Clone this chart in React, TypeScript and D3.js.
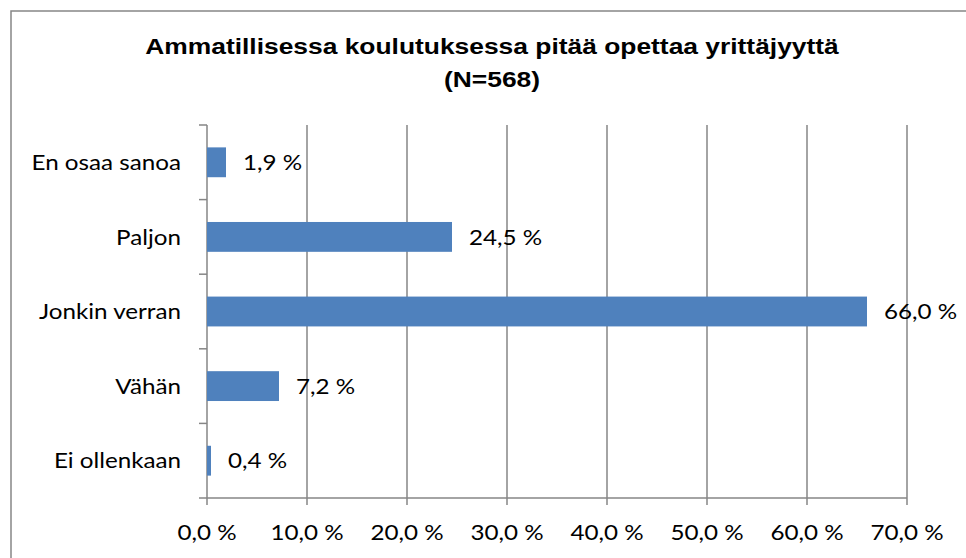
import React, { useEffect } from 'react';
import * as d3 from 'd3';

const categories = ['En osaa sanoa', 'Paljon', 'Jonkin verran', 'Vähän', 'Ei ollenkaan'];
const values = [1.9, 24.5, 66.0, 7.2, 0.4];
const xTicks = [0, 10, 20, 30, 40, 50, 60, 70];
const titleLines = ['Ammatillisessa koulutuksessa pitää opettaa yrittäjyyttä', '(N=568)'];

const width = 966;
const height = 558;
const gridColor = '#868686';
const barColor = '#4F81BD';
const labelFont = 'Lato, "Open Sans", sans-serif';
const labelSize = 22;
const labelStretch = 1.1; // source text is a bit wider than Lato

const fmt = (v: number) => v.toFixed(1).replace('.', ',') + ' %';

const Label = ({ x, y, anchor, children }: { x: number; y: number; anchor: string; children: React.ReactNode }) => (
  <text
    transform={`translate(${x},${y}) scale(${labelStretch},1)`}
    textAnchor={anchor}
    dy="0.35em"
    fontFamily={labelFont}
    fontSize={labelSize}
  >
    {children}
  </text>
);

const App = () => {
  useEffect(() => {
    document.body.style.margin = '0';
  }, []);

  // scales
  const x = d3.scaleLinear().domain([0, 70]).range([207, 907]);
  const y = d3
    .scaleBand<string>()
    .domain(categories)
    .range([125, 498])
    .paddingInner(0.6)
    .paddingOuter(0.3);

  const top = 125;
  const bottom = 498;
  const catTicks = d3.range(categories.length + 1).map((i) => top + i * y.step());
  const mid = (c: string) => (y(c) ?? 0) + y.bandwidth() / 2;

  return (
    <svg width={width} height={height} style={{ display: 'block' }}>
      <rect x={0} y={0} width={width} height={height} fill="#fff" />
      {/* chart border */}
      <rect x={11} y={11} width={width} height={height} fill="none" stroke={gridColor} strokeWidth={1.5} />

      {/* title */}
      <g fontFamily='"Liberation Sans", Arial, sans-serif' fontWeight="bold" fontSize={22} textAnchor="middle">
        {titleLines.map((t, i) => (
          <text key={i} transform={`translate(492,${54 + i * 33}) scale(1.2,1)`}>
            {t}
          </text>
        ))}
      </g>

      {/* gridlines */}
      {xTicks.map((t) => (
        <line key={t} x1={x(t)} x2={x(t)} y1={top} y2={bottom + 7} stroke={gridColor} strokeWidth={1.5} />
      ))}

      {/* axes */}
      <line x1={x(0)} x2={x(70)} y1={bottom} y2={bottom} stroke={gridColor} strokeWidth={1.5} />
      {catTicks.map((ty, i) => (
        <line key={i} x1={x(0) - 8} x2={x(0)} y1={ty} y2={ty} stroke={gridColor} strokeWidth={1.5} />
      ))}

      {/* bars */}
      {categories.map((c, i) => (
        <rect
          key={c}
          x={x(0)}
          y={y(c)}
          width={x(values[i]) - x(0)}
          height={y.bandwidth()}
          fill={barColor}
        />
      ))}

      {/* value labels */}
      {categories.map((c, i) => (
        <Label key={c} x={x(values[i]) + 17} y={mid(c)} anchor="start">
          {fmt(values[i])}
        </Label>
      ))}

      {/* category labels */}
      {categories.map((c) => (
        <Label key={c} x={181} y={mid(c)} anchor="end">
          {c}
        </Label>
      ))}

      {/* x tick labels */}
      {xTicks.map((t) => (
        <Label key={t} x={x(t)} y={532} anchor="middle">
          {fmt(t)}
        </Label>
      ))}
    </svg>
  );
};

export default App;
